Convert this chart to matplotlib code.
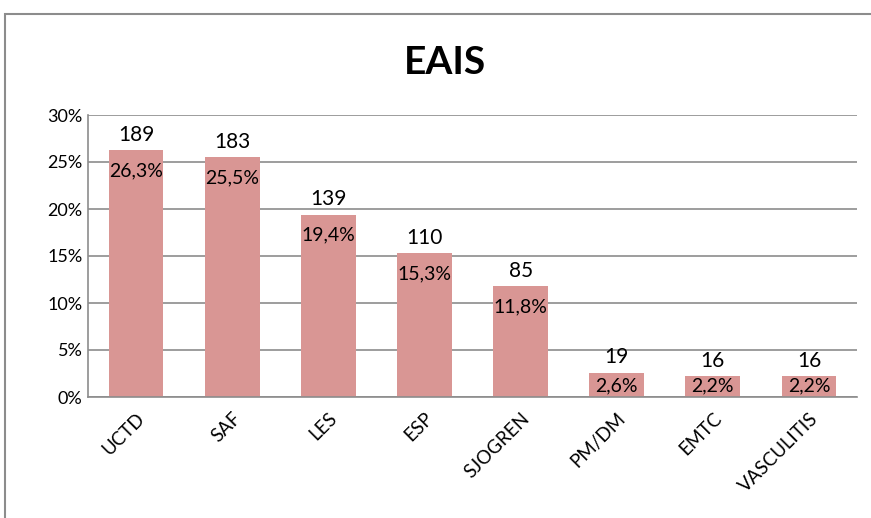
import numpy as np
import matplotlib.pyplot as plt
from matplotlib.patches import Rectangle

plt.rcParams['font.family'] = ['Lato', 'DejaVu Sans']

# Datos
categorias = ['UCTD', 'SAF', 'LES', 'ESP', 'SJOGREN', 'PM/DM', 'EMTC', 'VASCULITIS']
casos = [189, 183, 139, 110, 85, 19, 16, 16]
porcentajes = [26.3, 25.5, 19.4, 15.3, 11.8, 2.6, 2.2, 2.2]

color_barra = '#D99694'
color_rejilla = '#8C8C8C'

fig = plt.figure(figsize=(8.71, 5.18), dpi=100)
ax = fig.add_axes([88 / 871, 1 - 397 / 518, (857 - 88) / 871, (397 - 115) / 518])

x = np.arange(len(categorias))
ax.bar(x, porcentajes, width=0.57, color=color_barra, zorder=2)

ax.set_xlim(-0.5, len(categorias) - 0.5)
ax.set_ylim(0, 30)
ax.set_yticks(np.arange(0, 31, 5))
ax.set_yticklabels([f'{v}%' for v in range(0, 31, 5)], fontsize=13)
ax.set_xticks(x)
ax.set_xticklabels(categorias, rotation=45, ha='right', rotation_mode='anchor', fontsize=13.5)
ax.tick_params(axis='x', length=0, pad=9)
ax.tick_params(axis='y', length=0, pad=4)
ax.yaxis.grid(True, color=color_rejilla, linewidth=1.2, zorder=0)
ax.set_axisbelow(True)
for lado in ['top', 'right']:
    ax.spines[lado].set_visible(False)
for lado in ['left', 'bottom']:
    ax.spines[lado].set_color(color_rejilla)
    ax.spines[lado].set_linewidth(1.2)

# Etiquetas: numero de casos encima y porcentaje dentro de la barra
for xi, n, p in zip(x, casos, porcentajes):
    ax.text(xi, p + 0.55, str(n), ha='center', va='bottom', fontsize=15, zorder=3)
    y_pct = max(p - 1.3, 2.1)
    ax.text(xi, y_pct, f'{p:.1f}%'.replace('.', ','), ha='center', va='top',
            fontsize=14, zorder=3)

fig.text(445 / 871, 1 - 62 / 518, 'EAIS', ha='center', va='center',
         fontsize=28, fontweight='bold')

# Marco del grafico
fig.patches.append(Rectangle((5 / 871, -0.1), 1.0, 1.1 - 14 / 518,
                             transform=fig.transFigure, fill=False,
                             edgecolor='#8C8C8C', linewidth=1.5))

fig.savefig('out.png', dpi=100)
